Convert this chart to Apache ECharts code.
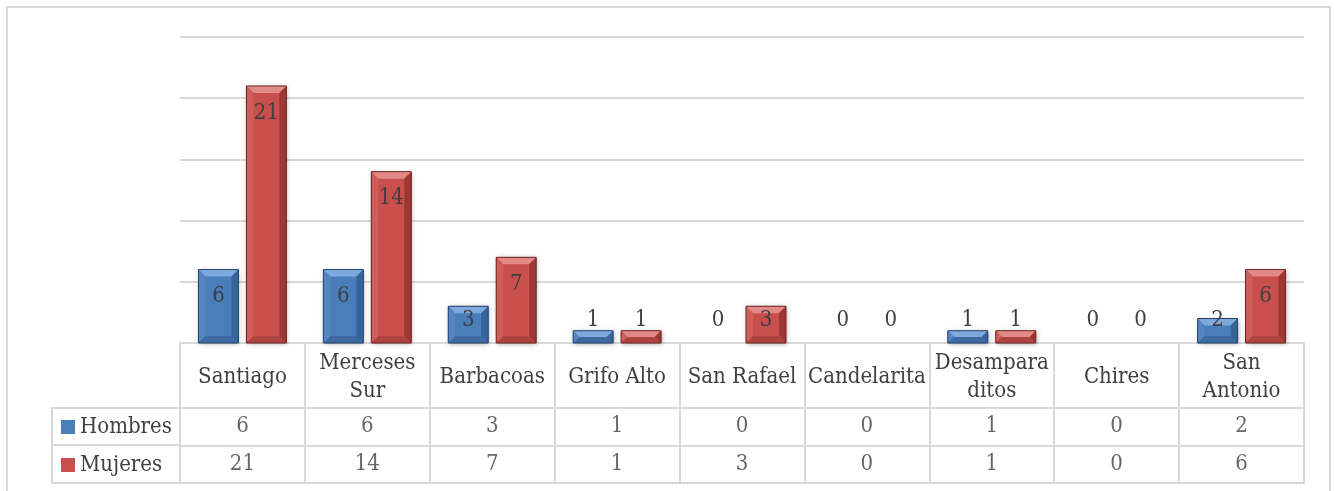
<!DOCTYPE html>
<html>
<head>
<meta charset="utf-8">
<script src="https://cdn.jsdelivr.net/npm/echarts@6/dist/echarts.min.js"></script>
<style>
  html, body { margin: 0; padding: 0; background: #fff; }
  #chart { width: 1338px; height: 491px; }
</style>
</head>
<body>
<div id="chart"></div>
<script>
// data
const categories = ['Santiago', 'Merceses\nSur', 'Barbacoas', 'Grifo Alto', 'San Rafael', 'Candelarita', 'Desampara\nditos', 'Chires', 'San\nAntonio'];
const hombres = [6, 6, 3, 1, 0, 0, 1, 0, 2];
const mujeres = [21, 14, 7, 1, 3, 0, 1, 0, 6];
const seriesNames = ['Hombres', 'Mujeres'];
const yMax = 25;
const yStep = 5;

const FONT = '"DejaVu Serif Condensed", "DejaVu Serif", serif';
const FONT_SIZE = 22;
const TEXT = '#404040';
const LINE = '#d9d9d9';

const palettes = {
  Hombres: { body: '#4a7ebb', top: '#7ea9dd', left: '#5586c3', right: '#37639b', bottom: '#3c6aa3', edge: '#23436b' },
  Mujeres: { body: '#c84f4c', top: '#e28a87', left: '#cf5d5a', right: '#9c3734', bottom: '#ad4441', edge: '#6e2523' }
};

// beveled bar, drawn through the axis scales
function bevelBar(name, side) {
  const p = palettes[name];
  return function (params, api) {
    const i = api.value(0);
    const v = api.value(1);
    const band = api.size([1, 0])[0];
    const w = band * 0.32;
    const gap = w * 0.2;
    const base = api.coord([i, 0]);
    const top = api.coord([i, v]);
    const cx = base[0] + side * (w + gap) / 2;
    const x0 = cx - w / 2, x1 = cx + w / 2, y0 = top[1], y1 = base[1];
    const h = y1 - y0;
    const children = [];
    if (h > 0.5) {
      const b = Math.min(7, h / 2, w / 2);
      children.push({
        type: 'rect', shape: { x: x0, y: y0, width: w, height: h },
        style: { fill: p.body, shadowBlur: 5, shadowColor: 'rgba(0,0,0,0.35)', shadowOffsetX: 1, shadowOffsetY: 1 }
      });
      children.push({ type: 'polygon', shape: { points: [[x0, y0], [x1, y0], [x1 - b, y0 + b], [x0 + b, y0 + b]] }, style: { fill: p.top } });
      children.push({ type: 'polygon', shape: { points: [[x0, y0], [x0 + b, y0 + b], [x0 + b, y1 - b], [x0, y1]] }, style: { fill: p.left } });
      children.push({ type: 'polygon', shape: { points: [[x1, y0], [x1, y1], [x1 - b, y1 - b], [x1 - b, y0 + b]] }, style: { fill: p.right } });
      children.push({ type: 'polygon', shape: { points: [[x0, y1], [x0 + b, y1 - b], [x1 - b, y1 - b], [x1, y1]] }, style: { fill: p.bottom } });
      children.push({ type: 'rect', shape: { x: x0, y: y0, width: w, height: h }, style: { fill: 'none', stroke: p.edge, lineWidth: 1 } });
    }
    const labelY = Math.min(y0 + 27, y1 - 23);
    children.push({
      type: 'text', x: cx, y: labelY,
      style: { text: String(v), fill: TEXT, font: FONT_SIZE + 'px ' + FONT, align: 'center', verticalAlign: 'middle' }
    });
    return { type: 'group', children: children };
  };
}

function tableRow(values, row) {
  return {
    type: 'scatter',
    xAxisIndex: 2,
    yAxisIndex: 2,
    silent: true,
    symbolSize: 1,
    itemStyle: { color: 'rgba(0,0,0,0)' },
    data: values.map((v, i) => [i, row, v]),
    label: {
      show: true, position: 'inside',
      formatter: p => String(p.value[2]),
      color: TEXT, fontFamily: FONT, fontSize: FONT_SIZE
    }
  };
}

const chart = echarts.init(document.getElementById('chart'));
const option = {
  animation: false,
  backgroundColor: '#fff',
  legend: {
    data: seriesNames,
    orient: 'vertical',
    left: 56,
    top: 408,
    icon: 'rect',
    itemWidth: 14,
    itemHeight: 14,
    itemGap: 10,
    textStyle: { fontFamily: FONT, fontSize: FONT_SIZE, color: TEXT, lineHeight: 28 }
  },
  grid: [
    { left: 180, right: 34, top: 37, bottom: 148 },
    { left: 180, right: 34, top: 343, height: 65, show: true, borderColor: LINE, borderWidth: 2 },
    { left: 180, right: 34, top: 408, height: 75, show: true, borderColor: LINE, borderWidth: 2 }
  ],
  xAxis: [
    {
      gridIndex: 0, type: 'category', data: categories,
      axisLine: { show: true, lineStyle: { color: LINE, width: 2 } },
      axisTick: { show: false },
      axisLabel: { interval: 0, margin: 34, verticalAlign: 'middle', lineHeight: 28, fontFamily: FONT, fontSize: FONT_SIZE, color: TEXT }
    },
    {
      gridIndex: 1, type: 'category', data: categories,
      axisLine: { show: false }, axisTick: { show: false }, axisLabel: { show: false },
      splitLine: { show: true, interval: 0, lineStyle: { color: LINE, width: 2 } }
    },
    {
      gridIndex: 2, type: 'category', data: categories,
      axisLine: { show: false }, axisTick: { show: false }, axisLabel: { show: false },
      splitLine: { show: true, interval: 0, lineStyle: { color: LINE, width: 2 } }
    }
  ],
  yAxis: [
    {
      gridIndex: 0, type: 'value', min: 0, max: yMax, interval: yStep,
      axisLabel: { show: false }, axisLine: { show: false }, axisTick: { show: false },
      splitLine: { lineStyle: { color: LINE, width: 2 } }
    },
    {
      gridIndex: 1, type: 'value', min: 0, max: 1,
      axisLabel: { show: false }, axisLine: { show: false }, axisTick: { show: false },
      splitLine: { show: false }
    },
    {
      gridIndex: 2, type: 'category', data: seriesNames, inverse: true,
      axisLabel: { show: false }, axisLine: { show: false }, axisTick: { show: false },
      splitLine: { show: true, interval: 0, lineStyle: { color: LINE, width: 2 } }
    }
  ],
  series: [
    {
      name: 'Hombres', type: 'custom', xAxisIndex: 0, yAxisIndex: 0,
      itemStyle: { color: palettes.Hombres.body },
      encode: { x: 0, y: 1 },
      data: hombres.map((v, i) => [i, v]),
      renderItem: bevelBar('Hombres', -1)
    },
    {
      name: 'Mujeres', type: 'custom', xAxisIndex: 0, yAxisIndex: 0,
      itemStyle: { color: palettes.Mujeres.body },
      encode: { x: 0, y: 1 },
      data: mujeres.map((v, i) => [i, v]),
      renderItem: bevelBar('Mujeres', 1)
    },
    tableRow(hombres, 0),
    tableRow(mujeres, 1)
  ],
  graphic: [
    { type: 'rect', shape: { x: 7, y: 7, width: 1323, height: 500 }, style: { fill: 'none', stroke: LINE, lineWidth: 2 }, silent: true },
    { type: 'rect', shape: { x: 52, y: 408, width: 128, height: 75 }, style: { fill: 'none', stroke: LINE, lineWidth: 2 }, silent: true },
    { type: 'line', shape: { x1: 52, y1: 445, x2: 180, y2: 445 }, style: { stroke: LINE, lineWidth: 2 }, silent: true }
  ]
};
chart.setOption(option);
</script>
</body>
</html>
